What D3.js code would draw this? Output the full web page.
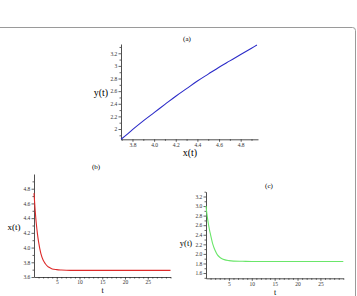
<!DOCTYPE html>
<html>
<head>
<meta charset="utf-8">
<script src="https://cdn.jsdelivr.net/npm/d3@7"></script>
<style>
  body { margin: 0; background: #fff; }
  svg { display: block; }
  svg text { font-family: "Liberation Serif", "DejaVu Serif", serif; }
  .tick text { fill: #333; }
  .domain { stroke: #222; stroke-width: 0.8; }
  .tick line { stroke: #222; stroke-width: 0.7; }
</style>
</head>
<body>
<div id="chart"></div>
<script>
'use strict';

// (a) phase trajectory y(t) against x(t)
const phaseX = [3.694, 3.75, 3.8, 3.9, 4.0, 4.1, 4.2, 4.3, 4.4, 4.5, 4.6, 4.7, 4.8, 4.9, 4.95];
const phaseY = [1.837, 1.915, 1.99, 2.13, 2.26, 2.39, 2.52, 2.64, 2.76, 2.87, 2.98, 3.08, 3.18, 3.28, 3.33];

// (b), (c) time series
const tValues = [0, 0.25, 0.5, 0.75, 1, 1.5, 2, 2.5, 3, 3.5, 4, 5, 6, 8, 10, 15, 20, 25, 30];
const xValues = [4.74, 4.51, 4.33, 4.19, 4.08, 3.92, 3.83, 3.78, 3.745, 3.725, 3.71, 3.70, 3.695, 3.69, 3.69, 3.69, 3.69, 3.69, 3.69];
const yValues = [3.00, 2.80, 2.64, 2.51, 2.40, 2.20, 2.07, 1.98, 1.93, 1.90, 1.88, 1.86, 1.85, 1.845, 1.84, 1.84, 1.84, 1.84, 1.84];

// tick labels
const aXTicks = [3.8, 4.0, 4.2, 4.4, 4.6, 4.8];
const aXLabels = ['3.8', '4.0', '4.2', '4.4', '4.6', '4.8'];
const aYTicks = [2, 2.2, 2.4, 2.6, 2.8, 3, 3.2];
const aYLabels = ['2', '2.2', '2.4', '2.6', '2.8', '3', '3.2'];
const bYTicks = [3.6, 3.8, 4.0, 4.2, 4.4, 4.6, 4.8];
const bYLabels = ['3.6', '3.8', '4.0', '4.2', '4.4', '4.6', '4.8'];
const cYTicks = [1.6, 1.8, 2.0, 2.2, 2.4, 2.6, 2.8, 3.0, 3.2];
const cYLabels = ['1.6', '1.8', '2.0', '2.2', '2.4', '2.6', '2.8', '3.0', '3.2'];
const tTicks = [5, 10, 15, 20, 25];
const tLabels = ['5', '10', '15', '20', '25'];

const W = 357, H = 296;
const SERIF = '"Liberation Serif", "DejaVu Serif", serif';

const svg = d3.select('#chart').append('svg')
    .attr('width', W)
    .attr('height', H);

// outer frame (left and bottom edges run off the picture)
svg.append('rect')
    .attr('x', -6).attr('y', 27.5)
    .attr('width', 361.5).attr('height', 300)
    .attr('rx', 3)
    .attr('fill', 'none')
    .attr('stroke', '#9a9a9a')
    .attr('stroke-width', 1);

function minorTicks(lo, hi, step, majors) {
    return d3.range(lo, hi + 1e-9, step)
        .filter(v => !majors.some(m => Math.abs(m - v) < 1e-6));
}

// draws one panel: axes, minor ticks, line, labels
function drawPanel(p) {
    const sx = d3.scaleLinear(p.xDomain, p.xRange);
    const sy = d3.scaleLinear(p.yDomain, p.yRange);
    const g = svg.append('g');

    const xAxis = g.append('g')
        .attr('transform', `translate(0,${p.yRange[0]})`)
        .call(d3.axisBottom(sx).tickValues(p.xTicks)
            .tickFormat((d, i) => p.xLabels[i]).tickSize(2.5).tickSizeOuter(0).tickPadding(1));
    xAxis.attr('font-family', SERIF).attr('font-size', 5.5);
    g.append('g')
        .attr('transform', `translate(0,${p.yRange[0]})`)
        .call(d3.axisBottom(sx).tickValues(p.xMinor).tickFormat('').tickSize(1.5).tickSizeOuter(0))
        .select('.domain').remove();

    const yAxis = g.append('g')
        .attr('transform', `translate(${p.xRange[0]},0)`)
        .call(d3.axisLeft(sy).tickValues(p.yTicks)
            .tickFormat((d, i) => p.yLabels[i]).tickSize(2.5).tickSizeOuter(0).tickPadding(1.2));
    yAxis.attr('font-family', SERIF).attr('font-size', 5.5);
    g.append('g')
        .attr('transform', `translate(${p.xRange[0]},0)`)
        .call(d3.axisLeft(sy).tickValues(p.yMinor).tickFormat('').tickSize(1.5).tickSizeOuter(0))
        .select('.domain').remove();

    const line = d3.line()
        .x((d, i) => sx(p.xs[i]))
        .y(d => sy(d))
        .curve(d3.curveMonotoneX);

    g.append('path')
        .datum(p.ys)
        .attr('d', line)
        .attr('fill', 'none')
        .attr('stroke', p.color)
        .attr('stroke-width', 1.1);

    g.append('text')
        .attr('x', p.title[0]).attr('y', p.title[1])
        .attr('text-anchor', 'middle').attr('font-size', 7)
        .text(p.title[2]);
    g.append('text')
        .attr('x', p.xTitle[0]).attr('y', p.xTitle[1])
        .attr('text-anchor', 'middle').attr('font-size', p.xTitle[3])
        .text(p.xTitle[2]);
    g.append('text')
        .attr('x', p.yTitle[0]).attr('y', p.yTitle[1])
        .attr('text-anchor', 'middle').attr('font-size', p.yTitle[3])
        .text(p.yTitle[2]);
}

// (a)
drawPanel({
    xs: phaseX, ys: phaseY, color: '#2b2bc8',
    xDomain: [3.694, 4.96], xRange: [121, 258],
    yDomain: [1.837, 3.347], yRange: [139.3, 44],
    xTicks: aXTicks, xLabels: aXLabels, xMinor: minorTicks(3.7, 4.9, 0.1, aXTicks),
    yTicks: aYTicks, yLabels: aYLabels, yMinor: minorTicks(1.9, 3.3, 0.1, aYTicks),
    title: [187, 41, '(a)'],
    xTitle: [190, 156, 'x(t)', 10],
    yTitle: [101, 96, 'y(t)', 10]
});

// (b)
drawPanel({
    xs: tValues, ys: xValues, color: '#dd2a2a',
    xDomain: [0, 30], xRange: [34, 170.5],
    yDomain: [3.6, 5.0], yRange: [277, 174],
    xTicks: tTicks, xLabels: tLabels, xMinor: minorTicks(1, 30, 1, tTicks),
    yTicks: bYTicks, yLabels: bYLabels, yMinor: minorTicks(3.7, 4.9, 0.1, bYTicks),
    title: [96, 169, '(b)'],
    xTitle: [102.7, 293, 't', 8],
    yTitle: [14, 230, 'x(t)', 9]
});

// (c)
drawPanel({
    xs: tValues, ys: yValues, color: '#6ae66a',
    xDomain: [0, 30], xRange: [206, 343.3],
    yDomain: [1.49, 3.3], yRange: [278.3, 191.7],
    xTicks: tTicks, xLabels: tLabels, xMinor: minorTicks(1, 30, 1, tTicks),
    yTicks: cYTicks, yLabels: cYLabels, yMinor: minorTicks(1.5, 3.3, 0.1, cYTicks),
    title: [269, 187.5, '(c)'],
    xTitle: [275, 295, 't', 8],
    yTitle: [186, 246, 'y(t)', 8.5]
});
</script>
</body>
</html>
